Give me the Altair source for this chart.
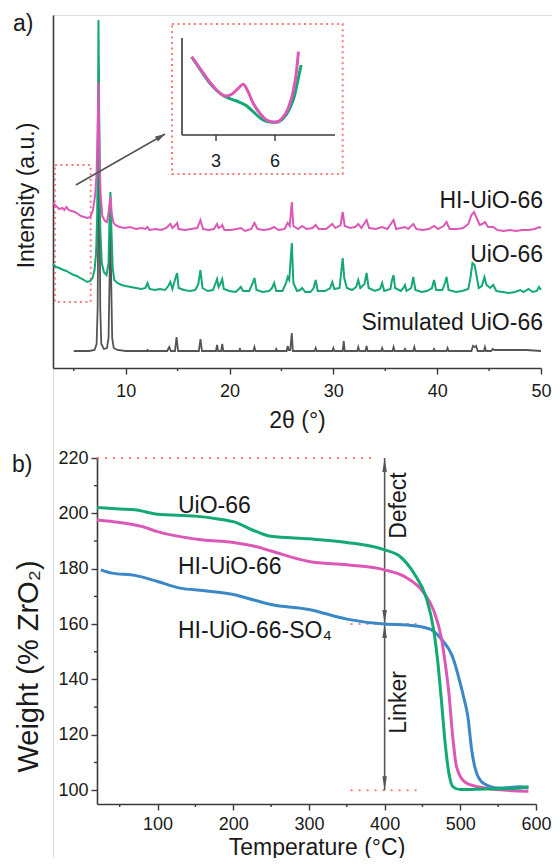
import altair as alt
import pandas as pd

# ---------------- panel a : PXRD ----------------
sim_x = [5.0, 6.5, 7.0, 7.2, 7.3, 7.37, 7.42, 7.48, 7.55, 7.65, 7.9, 8.2, 8.35, 8.45, 8.52, 8.6, 8.7, 8.85, 9.2, 10.0,
         12.0, 12.1, 12.2, 14.0, 14.2, 14.35, 14.75, 14.9, 15.05, 17.05, 17.2, 17.35, 18.7, 18.8, 18.9, 19.2, 19.3, 19.4,
         20.9, 21.0, 21.1, 22.3, 22.4, 22.5, 24.4, 24.5, 24.6, 25.5, 25.6, 25.7, 25.85, 26.0, 26.1, 28.2, 28.3, 28.4,
         29.9, 30.0, 30.1, 30.9, 31.0, 31.1, 32.3, 32.4, 32.5, 33.1, 33.2, 33.3, 34.6, 34.7, 34.8, 35.7, 35.8, 35.9,
         36.8, 36.9, 37.0, 37.7, 37.8, 37.9, 39.6, 39.7, 39.8, 40.9, 41.0, 41.1, 43.3, 43.45, 43.6, 43.75, 43.9,
         44.5, 44.6, 44.7, 45.2, 45.35, 45.5, 47.0, 48.6, 50.0]
sim_y = [17, 17, 18, 24, 60, 180, 298, 180, 60, 24, 19, 20, 30, 90, 150, 90, 30, 20, 18, 17,
         17, 18, 17, 17, 21, 17, 17, 31, 17, 17, 29, 17, 17, 23, 17, 17, 24, 17,
         17, 19, 17, 17, 21, 17, 17, 19, 17, 17, 22, 18, 18, 35, 17, 17, 20, 17,
         17, 20, 17, 17, 27, 17, 17, 21, 17, 17, 22, 17, 17, 20, 17, 17, 21, 17,
         17, 19, 17, 17, 21, 17, 17, 19, 17, 17, 20, 17, 17, 22, 21, 22, 17,
         17, 21, 17, 17, 19, 18, 18, 18, 17]

uio_x = [3.0, 3.3, 3.6, 4.0, 4.3, 4.6, 5.0, 5.3, 5.6, 6.0, 6.3, 6.6, 6.8, 7.0, 7.15, 7.25, 7.32, 7.38, 7.45, 7.55,
         7.7, 7.9, 8.15, 8.35, 8.45, 8.53, 8.62, 8.75, 8.9, 9.2, 9.6, 10.0, 10.5, 11.0, 11.5, 11.9, 12.1, 12.3,
         12.8, 13.3, 13.8, 14.1, 14.3, 14.5, 14.8, 14.95, 15.1, 15.6, 16.2, 16.7, 17.0, 17.2, 17.4, 17.9, 18.4,
         18.7, 18.8, 18.95, 19.15, 19.3, 19.45, 20.0, 20.6, 20.9, 21.1, 21.3, 21.9, 22.2, 22.4, 22.6, 23.2, 23.8,
         24.1, 24.3, 24.5, 25.1, 25.45, 25.6, 25.75, 25.9, 26.0, 26.15, 26.5, 26.8, 27.0, 27.3, 27.8, 28.1, 28.3,
         28.5, 29.2, 29.7, 29.9, 30.1, 30.6, 30.8, 30.9, 31.05, 31.3, 31.8, 32.2, 32.4, 32.6, 33.0, 33.2, 33.4,
         34.0, 34.5, 34.7, 34.9, 35.5, 35.65, 35.8, 35.95, 36.5, 36.75, 36.9, 37.05, 37.5, 37.7, 37.9, 38.5,
         39.0, 39.5, 39.7, 39.9, 40.5, 40.75, 40.9, 41.1, 41.8, 42.4, 43.0, 43.2, 43.4, 43.6, 43.8, 44.0, 44.3,
         44.55, 44.75, 45.1, 45.4, 45.7, 46.3, 46.9, 47.5, 48.0, 48.3, 48.8, 49.2, 49.6, 49.8, 50.0]
uio_y = [104, 101, 100, 98, 97, 95, 93, 92, 90, 88, 86, 87, 90, 98, 115, 150, 230, 348, 250, 140,
         105, 96, 93, 105, 150, 176, 140, 100, 88, 85, 83, 82, 81, 80, 79, 80, 85, 79,
         78, 79, 78, 82, 86, 79, 90, 95, 80, 78, 77, 78, 84, 98, 80, 77, 78,
         86, 89, 81, 85, 89, 79, 77, 76, 79, 81, 77, 77, 84, 90, 78, 76, 77,
         80, 85, 77, 77, 85, 91, 88, 110, 125, 85, 77, 78, 80, 76, 76, 80, 88,
         77, 77, 80, 86, 79, 80, 100, 110, 90, 80, 78, 81, 88, 80, 84, 95, 80,
         77, 79, 85, 77, 79, 88, 93, 80, 77, 80, 83, 77, 80, 91, 78, 76,
         77, 80, 88, 78, 78, 85, 91, 78, 76, 77, 79, 90, 105, 103, 92, 80, 82,
         91, 83, 80, 83, 77, 76, 75, 76, 78, 76, 79, 76, 77, 81, 78]

hi_x = [3.0, 3.3, 3.6, 3.9, 4.1, 4.3, 4.5, 4.8, 5.1, 5.4, 5.7, 6.0, 6.3, 6.6, 6.85, 7.05, 7.2, 7.3, 7.38, 7.46,
        7.58, 7.75, 8.0, 8.2, 8.35, 8.45, 8.55, 8.65, 8.8, 9.0, 9.4, 9.9, 10.4, 11.0, 11.5, 11.9, 12.1, 12.3,
        12.9, 13.4, 13.9, 14.1, 14.3, 14.5, 14.8, 14.95, 15.1, 15.7, 16.3, 16.9, 17.2, 17.45, 18.0, 18.5, 18.8,
        18.95, 19.15, 19.3, 19.5, 20.1, 20.7, 21.1, 21.5, 22.1, 22.4, 22.7, 23.3, 23.9, 24.3, 24.7, 25.3, 25.6,
        25.8, 26.0, 26.15, 26.6, 27.0, 27.4, 28.0, 28.3, 28.6, 29.3, 29.9, 30.2, 30.7, 30.9, 31.1, 31.6, 32.1,
        32.4, 32.7, 33.2, 33.45, 34.1, 34.7, 35.2, 35.8, 36.05, 36.5, 36.9, 37.2, 37.7, 38.0, 38.6, 39.2, 39.7,
        40.1, 40.6, 40.9, 41.2, 41.9, 42.5, 43.0, 43.3, 43.55, 43.8, 44.1, 44.35, 44.6, 44.9, 45.4, 45.8, 46.4,
        47.0, 47.6, 48.2, 48.8, 49.4, 49.8, 50.0]
hi_y = [165, 162, 159, 160, 158, 161, 158, 157, 156, 154, 152, 151, 150, 151, 158, 172, 195, 240, 286, 220,
        175, 152, 147, 146, 155, 165, 171, 155, 146, 143, 141, 140, 141, 139, 140, 139, 141, 138,
        139, 138, 140, 142, 144, 140, 143, 145, 139, 138, 139, 140, 148, 139, 138, 139, 144,
        140, 141, 143, 138, 138, 139, 140, 137, 139, 145, 139, 138, 139, 141, 138, 139, 145,
        142, 166, 142, 139, 142, 139, 140, 143, 139, 139, 144, 140, 143, 156, 142, 140, 141,
        144, 140, 148, 140, 139, 141, 139, 148, 139, 140, 141, 139, 144, 139, 138, 139, 142,
        139, 142, 146, 139, 139, 140, 144, 153, 156, 150, 143, 144, 146, 141, 141, 138, 137,
        138, 137, 138, 138, 139, 141, 140]

a_major = [10, 20, 30, 40, 50]
a_minor = [5, 15, 25, 35, 45]

# inset (low-angle region)
ins_hi_x = [1.76, 2.18, 2.6, 3.03, 3.45, 3.79, 4.13, 4.38, 4.59, 4.89, 5.23, 5.57, 5.99, 6.33, 6.67, 6.92, 7.09, 7.19]
ins_hi_y = [78.3, 66.7, 55, 45, 39, 40.7, 46.7, 50.7, 45, 31.7, 21.7, 15, 12.7, 16, 26.7, 43.3, 63.3, 83.3]
ins_uio_x = [1.76, 2.18, 2.6, 3.03, 3.45, 4.05, 4.55, 4.89, 5.23, 5.65, 6.08, 6.42, 6.75, 7.0, 7.22, 7.33]
ins_uio_y = [78, 66, 54, 44.5, 38.5, 34, 29.3, 23.3, 17.3, 13.3, 12.7, 16.7, 26.7, 40, 60, 70]
ins_domain_x = [1.27, 9.05]
ins_domain_y = [0, 97]
ins_ticks = [3, 6]

a_labels = ["HI-UiO-66", "UiO-66", "Simulated UiO-66"]
a_label_x = [50, 50, 50]
a_label_y = [160, 106, 38]

box_small = {"x": [3.19], "x2": [6.63], "y": [66], "y2": [203]}
box_inset = {"x": [14.46], "x2": [30.9], "y": [194], "y2": [344]}
arrow_a = {"x": [5.2], "x2": [13.8], "y": [183], "y2": [234]}

# ---------------- panel b : TGA ----------------
uio_t = [20, 50, 70, 100, 150, 180, 200, 230, 250, 300, 350, 400, 420, 440, 455, 465, 470, 475, 480, 485, 490,
         500, 520, 550, 570, 590]
uio_w = [202.1, 201.6, 201.3, 199.7, 199.0, 198.0, 197.0, 193.5, 191.7, 190.8, 189.5, 186.8, 184.5, 177.8, 169.5,
         157.6, 147, 132.5, 116.9, 106, 101.3, 100.2, 100.3, 100.5, 100.6, 101.2]
hi_t = [20, 50, 80, 100, 130, 160, 200, 230, 250, 300, 350, 400, 430, 450, 465, 475, 480, 485, 490, 495, 505,
        520, 550, 590]
hi_w = [197.6, 196.7, 195.2, 193.4, 191.6, 190.4, 189.5, 188.0, 186.4, 182.6, 181.4, 179.6, 176.6, 171.9, 164.8,
        155, 146, 134.8, 119.3, 108.5, 103.2, 101.4, 100.2, 99.6]
so4_t = [25, 40, 70, 100, 130, 160, 200, 230, 250, 300, 350, 400, 430, 460, 475, 490, 500, 505, 510, 515, 520,
         530, 550, 580, 590]
so4_w = [179.6, 178.4, 177.6, 175.4, 173.0, 172.1, 170.7, 168.5, 167.1, 165.3, 161.8, 160.0, 159.7, 158.2, 154.6,
         148.0, 138.5, 133, 126.5, 114.6, 107.5, 102.6, 100.8, 101.2, 100.8]

b_x_major = [100, 200, 300, 400, 500, 600]
b_x_minor = [50, 150, 250, 350, 450, 550]
b_y_major = [100, 120, 140, 160, 180, 200, 220]
b_y_minor = [110, 130, 150, 170, 190, 210]

b_labels = ["UiO-66", "HI-UiO-66", "HI-UiO-66-SO₄"]
b_label_t = [127, 127, 127]
b_label_w = [200.3, 178, 154.8]

guide_x = [20, 355, 355]
guide_x2 = [390, 450, 450]
guide_y = [220, 160, 100]

span_x = [400]
span_y = [220]
span_y2 = [100]
head_up_y = [220, 160]
head_down_y = [160, 100]

b_notes = ["Defect", "Linker"]
b_note_t = [419.5, 419.5]
b_note_w = [202.8, 131.7]

# ---------------- layout / styling ----------------
FONT = "Liberation Sans"
GREEN = "#14a873"
PINK = "#dc58b7"
BLUE = "#3b88c8"
GRAY = "#555555"
RED = "#f47c7c"
AXC = "#3a3a3a"
TXT = "#1a1a1a"

W, H = 499, 843            # whole drawing frame (origin = top-left of panel a plot)
A_H = 353                  # panel a plot height
B_TOP, B_BOT = 443, 789    # panel b plot rows inside the frame
B_LEFT, B_RIGHT = 44, 483  # panel b plot columns inside the frame
A_RIGHT = 488

base_axis = dict(grid=False, domainColor=AXC, domainWidth=1.6, tickColor=AXC, tickWidth=1.4, tickSize=6,
                 labelFont=FONT, labelFontSize=18, labelColor=TXT, titleFont=FONT, titleFontSize=23,
                 titleColor=TXT, titleFontWeight="normal", labelFlush=False, labelOverlap=False)


def xy(xs, ys):
    return pd.DataFrame({"x": xs, "y": ys})


# ---- panel a
xa_scale = alt.Scale(domain=[3, 50], range=[0, A_RIGHT], nice=False, zero=False)
ya_scale = alt.Scale(domain=[0, 353], range=[A_H, 0], nice=False, zero=False)
xa_axis = alt.Axis(values=a_major, orient="bottom", offset=-(H - A_H), labelPadding=8.5,
                   title="2θ (°)", titleY=59, titleBaseline="alphabetic", **base_axis)
ya_axis = alt.Axis(orient="left", ticks=False, labels=False, title="Intensity (a.u.)", titleX=-20, titleY=180,
                   titleAngle=270, titleAlign="center", titleBaseline="alphabetic", **base_axis)


def XA(f="x"):
    return alt.X(f"{f}:Q", scale=xa_scale, axis=xa_axis)


def YA(f="y"):
    return alt.Y(f"{f}:Q", scale=ya_scale, axis=ya_axis)


rect_small = alt.Chart(pd.DataFrame(box_small)).mark_rect(
    fillOpacity=0, stroke=RED, strokeWidth=2, strokeDash=[2, 3.5]).encode(
    x=XA(), x2="x2:Q", y=YA(), y2="y2:Q")
rect_inset = alt.Chart(pd.DataFrame(box_inset)).mark_rect(
    fillOpacity=0, stroke=RED, strokeWidth=2, strokeDash=[2, 3.5]).encode(
    x=XA(), x2="x2:Q", y=YA(), y2="y2:Q")
a_minor_ticks = alt.Chart(xy(a_minor, [0] * len(a_minor))).mark_tick(
    orient="vertical", size=3, thickness=1.4, color=AXC, yOffset=1.5, opacity=1).encode(x=XA(), y=YA())

line_sim = alt.Chart(xy(sim_x, sim_y)).mark_line(color=GRAY, strokeWidth=1.8).encode(x=XA(), y=YA())
line_uio = alt.Chart(xy(uio_x, uio_y)).mark_line(color=GREEN, strokeWidth=2).encode(x=XA(), y=YA())
line_hi = alt.Chart(xy(hi_x, hi_y)).mark_line(color=PINK, strokeWidth=2).encode(x=XA(), y=YA())

arrow_line = alt.Chart(pd.DataFrame(arrow_a)).mark_rule(color=GRAY, strokeWidth=1.6).encode(
    x=XA(), x2="x2:Q", y=YA(), y2="y2:Q")
arrow_head = alt.Chart(pd.DataFrame({"x": arrow_a["x2"], "y": arrow_a["y2"]})).mark_point(
    shape="M0,0L-2,-0.6L-2,0.6Z", size=100, filled=True, color=GRAY, opacity=1, angle=330, strokeWidth=0
).encode(x=XA(), y=YA())

a_text = alt.Chart(pd.DataFrame({"x": a_label_x, "y": a_label_y, "t": a_labels})).mark_text(
    align="right", baseline="alphabetic", font=FONT, fontSize=23, color=TXT, dx=2
).encode(x=XA(), y=YA(), text="t:N")

a_tag = alt.Chart(pd.DataFrame({"t": ["a)"]})).mark_text(
    align="left", baseline="alphabetic", font=FONT, fontSize=23, color=TXT
).encode(x=alt.value(-40), y=alt.value(16), text="t:N")

panel_a = alt.layer(rect_small, rect_inset, a_minor_ticks, line_sim, line_uio, line_hi, arrow_line, arrow_head,
                    a_text, a_tag)

# ---- inset: own scales, axes drawn as marks
xi_scale = alt.Scale(domain=ins_domain_x, range=[129, 282], nice=False, zero=False)
yi_scale = alt.Scale(domain=ins_domain_y, range=[120, 23], nice=False, zero=False)


def XI(f="x"):
    return alt.X(f"{f}:Q", scale=xi_scale, axis=None)


def YI(f="y"):
    return alt.Y(f"{f}:Q", scale=yi_scale, axis=None)


ins_ax_x = alt.Chart(pd.DataFrame({"x": [ins_domain_x[0]], "x2": [ins_domain_x[1]], "y": [ins_domain_y[0]]})
                     ).mark_rule(color=AXC, strokeWidth=1.6).encode(x=XI(), x2="x2:Q", y=YI())
ins_ax_y = alt.Chart(pd.DataFrame({"x": [ins_domain_x[0]], "y": [ins_domain_y[0]], "y2": [ins_domain_y[1]]})
                     ).mark_rule(color=AXC, strokeWidth=1.6).encode(x=XI(), y=YI(), y2="y2:Q")
ins_tk = alt.Chart(pd.DataFrame({"x": ins_ticks, "y": [ins_domain_y[0]] * len(ins_ticks)})).mark_tick(
    orient="vertical", size=6, thickness=1.4, color=AXC, yOffset=3, opacity=1).encode(x=XI(), y=YI())
ins_lb = alt.Chart(pd.DataFrame({"x": ins_ticks, "y": [ins_domain_y[0]] * len(ins_ticks),
                                 "t": [str(v) for v in ins_ticks]})).mark_text(
    baseline="alphabetic", align="center", dy=31.5, font=FONT, fontSize=18, color=TXT).encode(
    x=XI(), y=YI(), text="t:N")
ins_uio = alt.Chart(xy(ins_uio_x, ins_uio_y)).mark_line(color=GREEN, strokeWidth=3, interpolate="monotone").encode(
    x=XI(), y=YI())
ins_hi = alt.Chart(xy(ins_hi_x, ins_hi_y)).mark_line(color=PINK, strokeWidth=3, interpolate="monotone").encode(
    x=XI(), y=YI())
inset = alt.layer(ins_ax_x, ins_ax_y, ins_tk, ins_lb, ins_uio, ins_hi)

# ---- panel b
xb_scale = alt.Scale(domain=[20, 600], range=[B_LEFT, B_RIGHT], nice=False, zero=False)
yb_scale = alt.Scale(domain=[95, 220], range=[B_BOT, B_TOP], nice=False, zero=False)
xb_axis = alt.Axis(values=b_x_major, orient="bottom", offset=-(H - B_BOT), labelPadding=5,
                   title="Temperature (°C)", titleY=50, titleBaseline="alphabetic", **base_axis)
yb_axis = alt.Axis(values=b_y_major, orient="left", offset=-B_LEFT, labelPadding=3,
                   title="Weight (% ZrO₂)", titleX=-60, titleY=651, titleAngle=270,
                   titleAlign="center", titleBaseline="alphabetic",
                   **{**base_axis, "titleFontSize": 29})


def XB(f="x"):
    return alt.X(f"{f}:Q", scale=xb_scale, axis=xb_axis)


def YB(f="y"):
    return alt.Y(f"{f}:Q", scale=yb_scale, axis=yb_axis)


b_minor_xt = alt.Chart(xy(b_x_minor, [95] * len(b_x_minor))).mark_tick(
    orient="vertical", size=3, thickness=1.4, color=AXC, yOffset=1.5, opacity=1).encode(x=XB(), y=YB())
b_minor_yt = alt.Chart(xy([20] * len(b_y_minor), b_y_minor)).mark_tick(
    orient="horizontal", size=3, thickness=1.4, color=AXC, xOffset=-1.5, opacity=1).encode(x=XB(), y=YB())

guides = alt.Chart(pd.DataFrame({"x": guide_x, "x2": guide_x2, "y": guide_y})).mark_rule(
    color=RED, strokeWidth=2, strokeDash=[2, 6]).encode(x=XB(), x2="x2:Q", y=YB())
span = alt.Chart(pd.DataFrame({"x": span_x, "y": span_y, "y2": span_y2})).mark_rule(
    color=GRAY, strokeWidth=1.6).encode(x=XB(), y=YB(), y2="y2:Q")
heads_up = alt.Chart(pd.DataFrame({"x": [400, 400], "y": head_up_y})).mark_point(
    shape="M0,0L0.32,2L-0.32,2Z", size=196, filled=True, color=GRAY, opacity=1, strokeWidth=0
).encode(x=XB(), y=YB())
heads_down = alt.Chart(pd.DataFrame({"x": [400, 400], "y": head_down_y})).mark_point(
    shape="M0,0L0.32,-2L-0.32,-2Z", size=196, filled=True, color=GRAY, opacity=1, strokeWidth=0
).encode(x=XB(), y=YB())

tga_uio = alt.Chart(xy(uio_t, uio_w)).mark_line(color=GREEN, strokeWidth=3, interpolate="monotone").encode(
    x=XB(), y=YB())
tga_hi = alt.Chart(xy(hi_t, hi_w)).mark_line(color=PINK, strokeWidth=3, interpolate="monotone").encode(
    x=XB(), y=YB())
tga_so4 = alt.Chart(xy(so4_t, so4_w)).mark_line(color=BLUE, strokeWidth=3, interpolate="monotone").encode(
    x=XB(), y=YB())

b_text = alt.Chart(pd.DataFrame({"x": b_label_t, "y": b_label_w, "t": b_labels})).mark_text(
    align="left", baseline="alphabetic", font=FONT, fontSize=23, color=TXT
).encode(x=XB(), y=YB(), text="t:N")
b_note = alt.Chart(pd.DataFrame({"x": b_note_t, "y": b_note_w, "t": b_notes})).mark_text(
    align="center", baseline="middle", angle=270, font=FONT, fontSize=23, color=TXT
).encode(x=XB(), y=YB(), text="t:N")
b_tag = alt.Chart(pd.DataFrame({"t": ["b)"]})).mark_text(
    align="left", baseline="alphabetic", font=FONT, fontSize=23, color=TXT
).encode(x=alt.value(-41), y=alt.value(457), text="t:N")

panel_b = alt.layer(b_minor_xt, b_minor_yt, guides, span, heads_up, heads_down, tga_so4, tga_hi, tga_uio,
                    b_text, b_note, b_tag)

chart = alt.layer(panel_a, inset, panel_b).resolve_scale(x="independent", y="independent").properties(
    width=W, height=H,
    autosize=alt.AutoSizeParams(type="none"),
    padding={"left": 45, "top": 7, "right": 0, "bottom": 0}
).configure_view(stroke=None).configure(font=FONT)

chart.save("out.html", embed_options={"renderer": "svg", "actions": False})
